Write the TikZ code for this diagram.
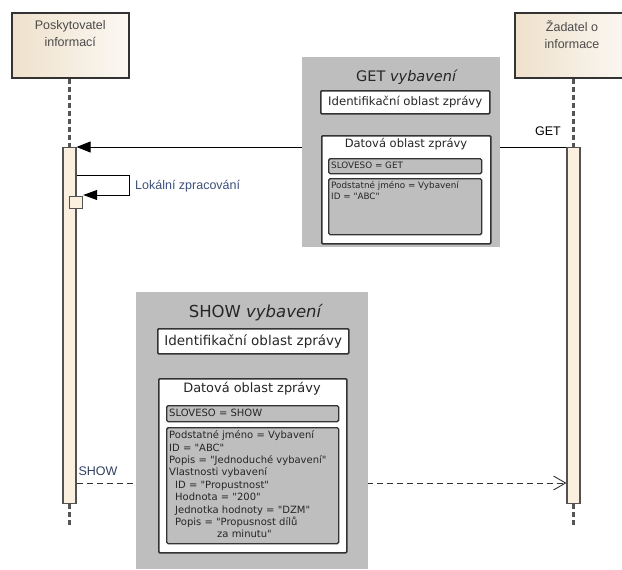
\documentclass[tikz,border=0pt]{standalone}
\usepackage{fontspec}
\setmainfont{Liberation Sans}
\newfontfamily\dvs{DejaVu Sans}
\usetikzlibrary{arrows.meta}

\definecolor{panelgray}{HTML}{BEBEBE}
\definecolor{edge}{HTML}{333333}
\definecolor{beigeL}{HTML}{EFE1CC}
\definecolor{beigeR}{HTML}{FBF8F3}
\definecolor{actfill}{HTML}{FBEFE0}
\definecolor{lifegray}{HTML}{555555}
\definecolor{msgblue}{HTML}{3D4F7C}
\definecolor{labelgray}{HTML}{4A4A4A}

\tikzset{
  actor/.style={draw=edge, line width=1.5pt, left color=beigeL, right color=beigeR,
                rectangle, inner sep=0pt, anchor=north west},
  actorlabel/.style={font=\fontsize{12.5}{17}\selectfont, text=labelgray, align=center,
                     inner sep=0pt, anchor=north},
  lifedash/.style={draw=lifegray, line width=2.4pt, dash pattern=on 5pt off 3pt},
  actbar/.style={draw=edge!85, line width=1.2pt, fill=actfill, rectangle, inner sep=0pt,
                 minimum width=13pt, anchor=north},
  callmsg/.style={draw=black, line width=0.9pt, -{Triangle[length=14pt,width=11pt]}},
  replymsg/.style={draw=edge, line width=0.9pt, dash pattern=on 6pt off 4pt,
                   -{Straight Barb[length=12pt,width=14pt,line width=0.9pt]}},
  msglabel/.style={font=\fontsize{12.5}{15}\selectfont, inner sep=0pt},
  panel/.style={fill=panelgray, draw=none, rectangle, inner sep=0pt, anchor=north west},
  whitebox/.style={fill=white, draw=edge, line width=1.5pt, rounded corners=1pt,
                   rectangle, inner sep=0pt, anchor=north west},
  fieldbox/.style={fill=panelgray, draw=edge, line width=1.4pt, rounded corners=1.5pt,
                   rectangle, inner sep=0pt, anchor=north west},
  boxtext/.style={inner sep=0pt, text=black!85},
}

\begin{document}
\begin{tikzpicture}[x=1pt,y=-1pt]
  \useasboundingbox (0,0) rectangle (622,570);

  % participants
  \node[actor, minimum width=117pt, minimum height=65pt] (prov) at (11,12) {};
  \node[actorlabel] (provlabel) at ([yshift=-8pt]prov.north) {Poskytovatel\\informací};
  \node[actor, minimum width=117pt, minimum height=65pt] (req) at (514,12) {};
  \node[actorlabel] (reqlabel) at (572,20) {Žadatel o\\informace};

  % activation bars
  \node[actbar, minimum height=356pt] (actL) at (69.5,147) {};
  \node[actbar, minimum height=356pt] (actR) at (573.5,147) {};

  % lifelines
  \coordinate (endL) at (69.5,527);
  \coordinate (endR) at (573.5,527);
  \draw[lifedash] (prov.south -| actL.north) -- (actL.north);
  \draw[lifedash] (req.south -| actR.north) -- (actR.north);
  \draw[lifedash] (actL.south) -- (endL);
  \draw[lifedash] (actR.south) -- (endR);

  % GET request
  \draw[callmsg] (actR.north west) -- (actL.north east);
  \node[msglabel] (getlabel) at (548,131) {GET};

  % local processing (self call)
  \node[actbar, minimum width=13pt, minimum height=12pt, anchor=north west] (local) at (69,196) {};
  \coordinate (selfA) at (129,175);
  \coordinate (selfB) at (129,195);
  \draw[callmsg, -{Triangle[length=14pt,width=10pt]}]
    (actL.east |- selfA) -- (selfA) -- (selfB) -- (local.east |- selfB);
  \node[msglabel, text=msgblue, anchor=west] (locallabel) at (135,186) {Lokální zpracování};

  % SHOW reply
  \coordinate (showY) at (0,483);
  \draw[replymsg] (actL.east |- showY) -- (actR.west |- showY);
  \node[msglabel, text=msgblue!80!black] (showlabel) at (98,471) {SHOW};

  % GET message content
  \node[panel, minimum width=198pt, minimum height=190pt] (getpanel) at (302,57) {};
  \node[boxtext, font=\dvs\fontsize{14.5}{17}\selectfont] (gettitle) at (407,77) {GET \textit{vybavení}};
  \node[whitebox, minimum width=169pt, minimum height=23pt] (getid) at (320,90) {};
  \node[boxtext, font=\dvs\fontsize{11.7}{14}\selectfont] (getidtext) at (getid.center) {Identifikační oblast zprávy};
  \node[whitebox, minimum width=169pt, minimum height=108pt] (getdata) at (321,135) {};
  \node[boxtext, font=\dvs\fontsize{11.5}{14}\selectfont] (getdatatext) at (406,144) {Datová oblast zprávy};
  \node[fieldbox, minimum width=153pt, minimum height=15pt] (getverb) at (328,158) {};
  \node[boxtext, anchor=west, font=\dvs\fontsize{8.8}{10.5}\selectfont] (getverbtext) at (331,165.5) {SLOVESO = GET};
  \node[fieldbox, minimum width=153pt, minimum height=56pt] (getnoun) at (328,178) {};
  \node[boxtext, anchor=north west, align=left, font=\dvs\fontsize{8.8}{10.5}\selectfont] (getnountext) at (331,181.5)
    {Podstatné jméno = Vybavení\\ID = "ABC"};

  % SHOW message content
  \node[panel, minimum width=232pt, minimum height=277pt] (showpanel) at (136,292) {};
  \node[boxtext, font=\dvs\fontsize{16.5}{19}\selectfont] (showtitle) at (256,313) {SHOW \textit{vybavení}};
  \node[whitebox, minimum width=191pt, minimum height=25pt] (showid) at (157,328) {};
  \node[boxtext, font=\dvs\fontsize{13.5}{16}\selectfont] (showidtext) at (showid.center) {Identifikační oblast zprávy};
  \node[whitebox, minimum width=188pt, minimum height=174pt] (showdata) at (158,378) {};
  \node[boxtext, font=\dvs\fontsize{12.9}{15}\selectfont] (showdatatext) at (252,389) {Datová oblast zprávy};
  \node[fieldbox, minimum width=172pt, minimum height=16pt] (showverb) at (166,405) {};
  \node[boxtext, anchor=west, font=\dvs\fontsize{10}{12.5}\selectfont] (showverbtext) at (169,413) {SLOVESO = SHOW};
  \node[fieldbox, minimum width=172pt, minimum height=116pt] (shownoun) at (166,427) {};
  \node[boxtext, anchor=north west, align=left, font=\dvs\fontsize{10}{12.4}\selectfont] (shownountext) at (169,430.5)
    {Podstatné jméno = Vybavení\\
     ID = "ABC"\\
     Popis = "Jednoduché vybavení"\\
     Vlastnosti vybavení\\
     \hspace*{6pt}ID = "Propustnost"\\
     \hspace*{6pt}Hodnota = "200"\\
     \hspace*{6pt}Jednotka hodnoty = "DZM"\\
     \hspace*{6pt}Popis = "Propusnost dílů\\
     \hspace*{48pt}za minutu"};
\end{tikzpicture}
\end{document}
